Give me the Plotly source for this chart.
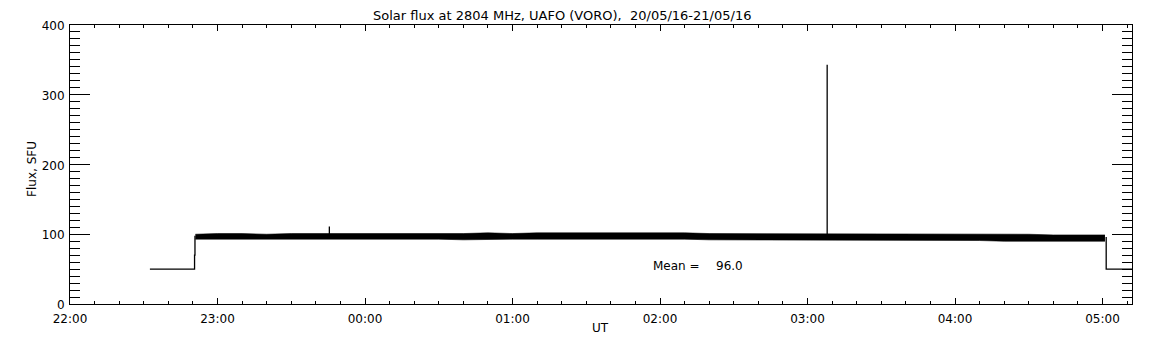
import plotly.graph_objects as go

# ---------------- data ----------------
band_times = [
    "2016-05-20 22:51", "2016-05-20 23:00", "2016-05-20 23:10", "2016-05-20 23:20",
    "2016-05-20 23:30", "2016-05-20 23:40", "2016-05-20 23:50", "2016-05-21 00:00",
    "2016-05-21 00:10", "2016-05-21 00:20", "2016-05-21 00:30", "2016-05-21 00:40",
    "2016-05-21 00:50", "2016-05-21 01:00", "2016-05-21 01:10", "2016-05-21 01:20",
    "2016-05-21 01:30", "2016-05-21 01:40", "2016-05-21 01:50", "2016-05-21 02:00",
    "2016-05-21 02:10", "2016-05-21 02:20", "2016-05-21 02:30", "2016-05-21 02:40",
    "2016-05-21 02:50", "2016-05-21 03:00", "2016-05-21 03:10", "2016-05-21 03:20",
    "2016-05-21 03:30", "2016-05-21 03:40", "2016-05-21 03:50", "2016-05-21 04:00",
    "2016-05-21 04:10", "2016-05-21 04:20", "2016-05-21 04:30", "2016-05-21 04:40",
    "2016-05-21 04:50", "2016-05-21 05:00", "2016-05-21 05:01",
]
band_upper = [100, 101, 101, 100, 101, 101, 101, 101, 100, 101, 101, 101, 102, 101,
              102, 102, 103, 102, 103, 102, 102, 101, 101, 101, 100, 101, 101, 101,
              100, 100, 100, 100, 100, 100, 100, 99, 99, 100, 99]
band_lower = [93, 93, 93, 94, 93, 93, 93, 93, 93, 93, 93, 92, 93, 93, 93, 93, 94, 94,
              93, 93, 93, 92, 92, 92, 92, 92, 91, 91, 91, 91, 91, 91, 91, 90, 90, 90,
              89, 89, 90]

# off-sun calibration levels before and after the observation
pre_times = ["2016-05-20 22:32:30", "2016-05-20 22:50:40", "2016-05-20 22:50:40",
             "2016-05-20 22:50:50", "2016-05-20 22:50:50"]
pre_flux = [50, 50, 70, 70, 98]
post_times = ["2016-05-21 05:01:30", "2016-05-21 05:01:30", "2016-05-21 05:12"]
post_flux = [96, 50, 50]

# isolated spikes
spike_times = ["2016-05-20 23:45:30", "2016-05-21 03:08"]
spike_base = [98, 98]
spike_peak = [111, 343]

mean_flux = 96.0
x_range = ["2016-05-20 22:00", "2016-05-21 05:12"]
y_range = [0, 400]
title_text = "Solar flux at 2804 MHz, UAFO (VORO),  20/05/16-21/05/16"

# ---------------- figure ----------------
fig = go.Figure()
fig.add_trace(go.Scatter(x=band_times, y=band_lower, mode="lines",
                         line=dict(color="black", width=0.6), hoverinfo="skip"))
fig.add_trace(go.Scatter(x=band_times, y=band_upper, mode="lines", fill="tonexty",
                         fillcolor="black", line=dict(color="black", width=0.6),
                         hoverinfo="skip"))
fig.add_trace(go.Scatter(x=pre_times, y=pre_flux, mode="lines",
                         line=dict(color="black", width=1.3)))
fig.add_trace(go.Scatter(x=post_times, y=post_flux, mode="lines",
                         line=dict(color="black", width=1.3)))
for t, b, p in zip(spike_times, spike_base, spike_peak):
    fig.add_trace(go.Scatter(x=[t, t], y=[b, p], mode="lines",
                             line=dict(color="black", width=1.3)))

font_family = "DejaVu Sans"
OFF = 8                      # default page body margin
W, H = 1152 - OFF, 345 - OFF
L, R, T, B = 70 - OFF, 20, 19 - OFF, 41
pw, ph = W - L - R, H - T - B
plot_left, plot_bottom = L + OFF, OFF + H - B


def px(xp):
    return (xp - plot_left) / pw


def py(yp):
    return (plot_bottom - yp) / ph


fig.update_layout(
    width=W, height=H, showlegend=False,
    margin=dict(l=L, r=R, t=T, b=B),
    paper_bgcolor="white", plot_bgcolor="white",
    font=dict(family=font_family, size=12, color="black"),
    xaxis=dict(
        type="date", range=x_range, dtick=3600000, tick0="2016-05-20 22:00",
        tickformat="%H:%M", ticks="inside", ticklen=6, tickwidth=1,
        tickcolor="black", showline=True, linecolor="black", linewidth=1,
        mirror="allticks", showgrid=False, zeroline=False,
        tickfont=dict(size=12), ticklabelstandoff=4,
        minor=dict(dtick=600000, ticks="inside", ticklen=3, tickcolor="black",
                   showgrid=False),
    ),
    yaxis=dict(
        range=y_range, dtick=100, ticks="inside", ticklen=20, tickwidth=1,
        tickcolor="black", showline=True, linecolor="black", linewidth=1,
        mirror="allticks", showgrid=False, zeroline=False,
        tickfont=dict(size=12), ticklabelstandoff=2, ticklabelshift=1,
        minor=dict(dtick=10, ticks="inside", ticklen=10, tickcolor="black",
                   showgrid=False),
    ),
    annotations=[
        dict(text=title_text, x=px(561.5), y=py(9), xref="paper", yref="paper",
             showarrow=False, xanchor="center", yanchor="middle",
             font=dict(size=13)),
        dict(text="UT", x=px(600), y=py(329), xref="paper", yref="paper",
             showarrow=False, xanchor="center", yanchor="middle",
             font=dict(size=12)),
        dict(text="Flux, SFU", x=px(32), y=py(166), xref="paper", yref="paper",
             showarrow=False, xanchor="center", yanchor="middle", textangle=-90,
             font=dict(size=12)),
        dict(text="Mean =", x=px(651), y=py(265), xref="paper", yref="paper",
             showarrow=False, xanchor="left", yanchor="middle",
             font=dict(size=12)),
        dict(text=f"{mean_flux:.1f}", x=px(714), y=py(265), xref="paper", yref="paper",
             showarrow=False, xanchor="left", yanchor="middle",
             font=dict(size=12)),
    ],
)

fig.write_html("out.html")
